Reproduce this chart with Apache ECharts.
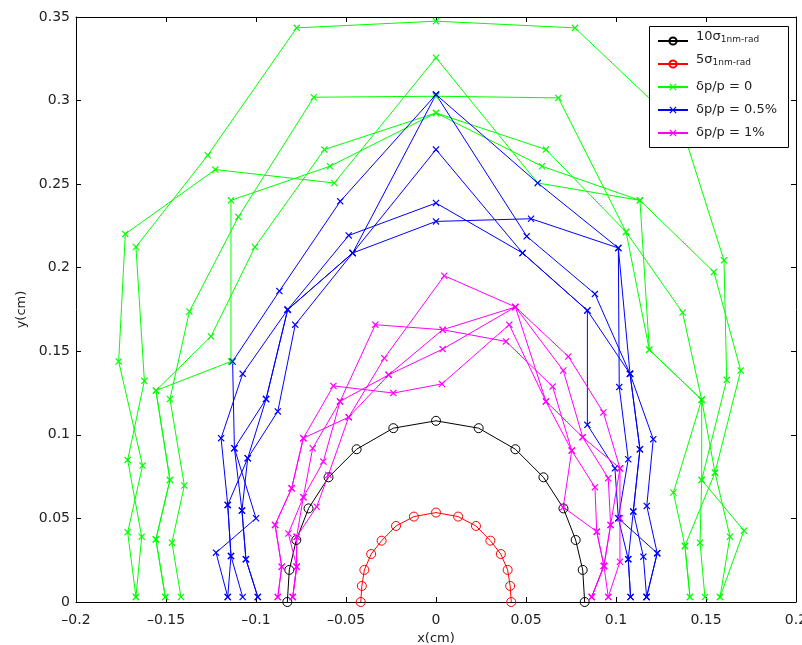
<!DOCTYPE html>
<html>
<head>
<meta charset="utf-8">
<script src="https://cdn.jsdelivr.net/npm/echarts@6/dist/echarts.min.js"></script>
<style>
  html, body { margin: 0; padding: 0; background: #ffffff; }
  #chart { width: 802px; height: 645px; }
</style>
</head>
<body>
<div id="chart"></div>
<script>
// Axis ranges (cm)
const xRange = [-0.2, 0.2];
const yRange = [0, 0.35];
const tickStep = 0.05;

// Beam envelopes: 10 sigma and 5 sigma of a 1 nm-rad emittance
const env10 = [[-0.0826,0],[-0.0815,0.0192],[-0.0776,0.0371],[-0.0708,0.056],[-0.0597,0.0746],[-0.0441,0.0914],[-0.0237,0.104],[0,0.1084],[0.0237,0.104],[0.0441,0.0914],[0.0597,0.0746],[0.0708,0.056],[0.0776,0.0371],[0.0815,0.0192],[0.0826,0]];
const env5 = [[-0.0418,0],[-0.0412,0.0096],[-0.0398,0.0192],[-0.036,0.0287],[-0.0302,0.0367],[-0.0222,0.0455],[-0.0123,0.0511],[0,0.0535],[0.0123,0.0511],[0.0222,0.0455],[0.0302,0.0367],[0.036,0.0287],[0.0398,0.0192],[0.0412,0.0096],[0.0418,0]];

// Dynamic aperture, dp/p = 0 (five seeds)
const green1 = [[-0.1667,0.003],[-0.1635,0.0391],[-0.1713,0.085],[-0.162,0.1323],[-0.1667,0.2124],[-0.1268,0.2673],[-0.0774,0.3435],[0,0.3475],[0.0772,0.3435],[0.137,0.2825],[0.16,0.2044],[0.1615,0.1329],[0.1476,0.073],[0.1711,0.0427],[0.1578,0.003]];
const green2 = [[-0.1417,0.003],[-0.1467,0.0355],[-0.1398,0.0697],[-0.1478,0.1214],[-0.137,0.1738],[-0.1098,0.2304],[-0.0679,0.302],[0,0.3026],[0.068,0.3016],[0.1056,0.2214],[0.1185,0.1509],[0.1476,0.121],[0.1319,0.0655],[0.1383,0.0335],[0.1411,0.003]];
const green3 = [[-0.1667,0.003],[-0.1713,0.0417],[-0.163,0.0816],[-0.1763,0.1439],[-0.1726,0.2202],[-0.1226,0.2587],[-0.0565,0.2507],[0,0.3256],[0.0565,0.2507],[0.1133,0.2403],[0.1544,0.1974],[0.1693,0.1385],[0.155,0.0774],[0.1633,0.0391],[0.1578,0.003]];
const green4 = [[-0.1504,0.003],[-0.1556,0.0375],[-0.1478,0.073],[-0.1556,0.1265],[-0.125,0.1589],[-0.1006,0.2124],[-0.062,0.2707],[0,0.2926],[0.0611,0.2707],[0.1056,0.2214],[0.137,0.1732],[0.1476,0.121],[0.1476,0.073],[0.1467,0.0355],[0.1494,0.003]];
const green5 = [[-0.1504,0.003],[-0.1556,0.0375],[-0.1478,0.073],[-0.1556,0.1265],[-0.1139,0.1439],[-0.1139,0.2403],[-0.0589,0.2607],[0,0.2926],[0.0589,0.2607],[0.1133,0.2403],[0.1185,0.1509],[0.1476,0.121],[0.155,0.0774],[0.1383,0.0335],[0.1411,0.003]];

// Dynamic aperture, dp/p = 0.5%
const blue1 = [[-0.1157,0.003],[-0.1222,0.0295],[-0.1,0.0501],[-0.112,0.092],[-0.113,0.1439],[-0.087,0.186],[-0.0532,0.2397],[0,0.3036],[0.0565,0.2507],[0.1013,0.2118],[0.1078,0.1365],[0.1207,0.0974],[0.1171,0.0575],[0.1229,0.0292],[0.117,0.003]];
const blue2 = [[-0.1074,0.003],[-0.1139,0.0275],[-0.1157,0.0581],[-0.1194,0.098],[-0.1074,0.1365],[-0.0824,0.1749],[-0.0463,0.2088],[0,0.3036],[0.0504,0.2188],[0.0883,0.1843],[0.1078,0.1365],[0.1133,0.0914],[0.1096,0.0541],[0.1152,0.0271],[0.117,0.003]];
const blue3 = [[-0.099,0.003],[-0.1056,0.0256],[-0.1078,0.0547],[-0.112,0.092],[-0.0944,0.1214],[-0.0824,0.1749],[-0.0463,0.2088],[0,0.2707],[0.0481,0.2088],[0.0841,0.1744],[0.0841,0.106],[0.0994,0.08],[0.1013,0.0501],[0.1068,0.0256],[0.1081,0.003]];
const blue4 = [[-0.099,0.003],[-0.1056,0.0256],[-0.1078,0.0547],[-0.1046,0.086],[-0.0944,0.1214],[-0.0824,0.1749],[-0.0485,0.2193],[0,0.2387],[0.0481,0.2088],[0.0841,0.1744],[0.1078,0.1365],[0.1133,0.0914],[0.1096,0.0541],[0.1068,0.0256],[0.1081,0.003]];
const blue5 = [[-0.1157,0.003],[-0.1139,0.0275],[-0.1157,0.0581],[-0.1046,0.086],[-0.0879,0.114],[-0.0782,0.1659],[-0.0463,0.2088],[0,0.2277],[0.0528,0.2293],[0.1013,0.2118],[0.1018,0.1286],[0.1068,0.0854],[0.1013,0.0501],[0.1229,0.0292],[0.117,0.003]];

// Dynamic aperture, dp/p = 1%
const mag1 = [[-0.0879,0.003],[-0.0857,0.0211],[-0.0894,0.0461],[-0.0802,0.068],[-0.0737,0.098],[-0.0485,0.1106],[-0.0287,0.1459],[0.0046,0.1952],[0.0441,0.1765],[0.0735,0.1469],[0.093,0.1134],[0.1022,0.08],[0.1022,0.0501],[0.1022,0.0241],[0.0957,0.003]];
const mag2 = [[-0.0796,0.003],[-0.0774,0.0211],[-0.082,0.041],[-0.0737,0.0627],[-0.0685,0.092],[-0.0533,0.12],[-0.0337,0.1659],[0.0037,0.1629],[0.0441,0.1765],[0.0707,0.1385],[0.0815,0.0986],[0.0957,0.0741],[0.097,0.0461],[0.0933,0.0216],[0.0957,0.003]];
const mag3 = [[-0.0796,0.003],[-0.0774,0.0211],[-0.0774,0.039],[-0.0737,0.0627],[-0.0626,0.084],[-0.0533,0.12],[-0.0263,0.1359],[0.0037,0.1513],[0.0441,0.1765],[0.0611,0.12],[0.0815,0.0986],[0.1022,0.08],[0.097,0.0461],[0.0933,0.0216],[0.0865,0.003]];
const mag4 = [[-0.0879,0.003],[-0.0857,0.0211],[-0.0894,0.0461],[-0.0802,0.068],[-0.0737,0.098],[-0.057,0.1293],[-0.0237,0.125],[0.0033,0.1305],[0.0407,0.1659],[0.0611,0.12],[0.0754,0.0906],[0.0883,0.0687],[0.0893,0.0421],[0.0933,0.0216],[0.0865,0.003]];
const mag5 = [[-0.0796,0.003],[-0.0774,0.0211],[-0.0774,0.039],[-0.0663,0.057],[-0.0598,0.076],[-0.0485,0.1106],[-0.0263,0.1359],[0.0037,0.1629],[0.0389,0.1559],[0.0648,0.1289],[0.0754,0.0906],[0.0707,0.0567],[0.0893,0.0421],[0.0933,0.0216],[0.0865,0.003]];

const legendNames = ['10σ', '5σ', 'δp/p = 0', 'δp/p = 0.5%', 'δp/p = 1%'];

const FONT = 'DejaVu Sans';
const CROSS = 'path://M0,1.2L1.2,0L5,3.8L8.8,0L10,1.2L6.2,5L10,8.8L8.8,10L5,6.2L1.2,10L0,8.8L3.8,5Z';

function ringSeries(name, data, color) {
  return {
    name, type: 'line', data,
    symbol: 'circle', symbolSize: 9, showAllSymbol: true,
    lineStyle: { color, width: 1 },
    itemStyle: { color: 'rgba(255,255,255,0)', borderColor: color, borderWidth: 1 },
    emphasis: { disabled: true }, animation: false
  };
}
function crossSeries(name, seeds, color) {
  return seeds.map(data => ({
    name, type: 'line', data,
    symbol: CROSS, symbolSize: 7, showAllSymbol: true,
    lineStyle: { color, width: 1 },
    itemStyle: { color },
    emphasis: { disabled: true }, animation: false
  }));
}

const fmtTick = v => {
  const s = String(Number(v.toFixed(3)));
  return s.replace('-', '\u2013');
};

const axisCommon = {
  type: 'value',
  interval: tickStep,
  axisLine: { show: true, onZero: false, lineStyle: { color: '#000', width: 1 } },
  axisTick: { show: true, inside: true, length: 5, lineStyle: { color: '#000' } },
  splitLine: { show: false }
};

const chart = echarts.init(document.getElementById('chart'));
chart.setOption({
  backgroundColor: '#ffffff',
  animation: false,
  grid: { left: 76, top: 17, width: 720, height: 585, containLabel: false, outerBoundsMode: 'none' },
  xAxis: [
    Object.assign({}, axisCommon, {
      min: xRange[0], max: xRange[1], position: 'bottom',
      name: 'x(cm)', nameLocation: 'middle', nameGap: 29,
      nameTextStyle: { fontFamily: FONT, fontSize: 13, color: '#222' },
      axisLabel: { formatter: fmtTick, fontFamily: FONT, fontSize: 14, color: '#222', margin: 11 }
    }),
    Object.assign({}, axisCommon, {
      min: xRange[0], max: xRange[1], position: 'top', axisLabel: { show: false }
    })
  ],
  yAxis: [
    Object.assign({}, axisCommon, {
      min: yRange[0], max: yRange[1], position: 'left',
      name: 'y(cm)', nameLocation: 'middle', nameGap: 46,
      nameTextStyle: { fontFamily: FONT, fontSize: 13, color: '#222' },
      axisLabel: { formatter: fmtTick, fontFamily: FONT, fontSize: 14, color: '#222', margin: 6 }
    }),
    Object.assign({}, axisCommon, {
      min: yRange[0], max: yRange[1], position: 'right', axisLabel: { show: false }
    })
  ],
  graphic: [{
    type: 'rect', z: 100, zlevel: 1,
    shape: { x: 649.5, y: 26.5, width: 139, height: 121 },
    style: { fill: '#fff', stroke: '#000', lineWidth: 1 }
  }],
  legend: {
    data: legendNames,
    orient: 'vertical', left: 657, top: 30, padding: 0,
    itemWidth: 30, itemHeight: 9, itemGap: 1, z: 110, zlevel: 1,
    formatter: function (name) {
      if (name === '10σ' || name === '5σ') return '{m|' + name + '}{s|1nm-rad}';
      return '{t|' + name + '}';
    },
    textStyle: {
      fontFamily: FONT, color: '#222', fontSize: 13, lineHeight: 22, height: 22,
      rich: {
        m: { fontFamily: FONT, fontSize: 13, lineHeight: 14, verticalAlign: 'top', padding: [0, 0, 0, 3], color: '#222' },
        s: { fontFamily: FONT, fontSize: 9, lineHeight: 11, verticalAlign: 'bottom', color: '#222' },
        t: { fontFamily: FONT, fontSize: 13, lineHeight: 22, height: 22, padding: [0, 0, 0, 3], color: '#222' }
      }
    }
  },
  series: [
    ringSeries('10σ', env10, '#000000'),
    ringSeries('5σ', env5, '#ff0000'),
    ...crossSeries('δp/p = 0', [green1, green2, green3, green4, green5], '#00ff00'),
    ...crossSeries('δp/p = 0.5%', [blue1, blue2, blue3, blue4, blue5], '#0000ff'),
    ...crossSeries('δp/p = 1%', [mag1, mag2, mag3, mag4, mag5], '#ff00ff')
  ]
});
</script>
</body>
</html>
